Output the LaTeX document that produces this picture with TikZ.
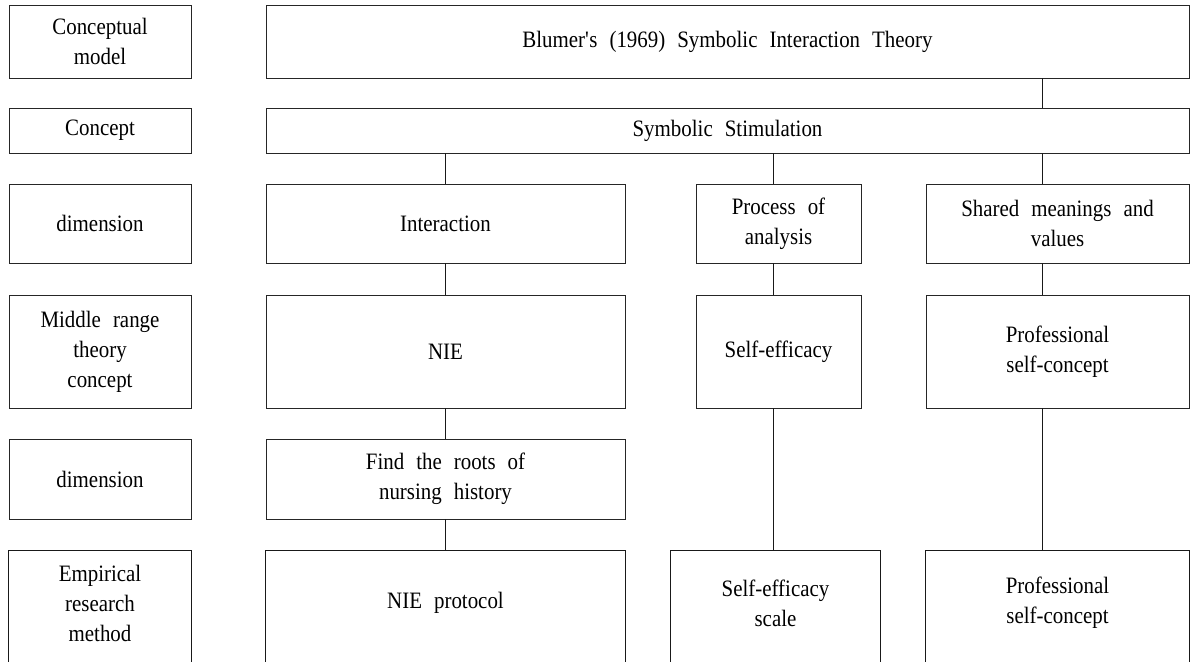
\documentclass[tikz,border=0pt]{standalone}
\usepackage{fontspec}
\setmainfont{Liberation Serif}[WordSpace=2.3, FakeStretch=0.89]
\usetikzlibrary{calc}
\newcommand*{\LevelBox}[6]{% #1 = name, #2/#3 = left/right, #4/#5 = top/bottom, #6 = text
  \node [cell, minimum width={#3-#2}, minimum height={#5-#4}]
    (#1) at ({(#2+#3)/2},{(#4+#5)/2}) {#6};
}

\begin{document}
\begin{tikzpicture}[x=1pt, y=-1pt,
    cell/.style={draw=black!85, line width=0.9pt, inner sep=0pt, align=center,
      font=\fontsize{23.5}{30}\selectfont},
    link/.style={draw=black!90, line width=0.9pt}]
  \useasboundingbox (0,0) rectangle (1190,661);
  \clip (0,0) rectangle (1190,661);
  % level labels
  \LevelBox{lmodel}{9}{191}{5}{78}{Conceptual\\model}
  \LevelBox{lconcept}{9}{191}{108}{153}{Concept}
  \LevelBox{ldimA}{9}{191}{184}{263}{dimension}
  \LevelBox{lmiddle}{9}{191}{295}{408}{Middle range\\theory\\concept}
  \LevelBox{ldimB}{9}{191}{439}{519}{dimension}
  % tree
  \LevelBox{blumer}{266}{1189}{5}{78}{Blumer\textquotesingle s (1969) Symbolic Interaction Theory}
  \LevelBox{stim}{266}{1189}{108}{153}{Symbolic Stimulation}
  \LevelBox{inter}{266}{625}{184}{263}{Interaction}
  \LevelBox{proc}{696}{861}{184}{263}{Process of\\analysis}
  \LevelBox{shared}{926}{1189}{184}{263}{Shared meanings and\\values}
  \LevelBox{nie}{266}{625}{295}{408}{NIE}
  \LevelBox{selfeff}{696}{861}{295}{408}{Self-efficacy}
  \LevelBox{profsc}{926}{1189}{295}{408}{Professional\\self-concept}
  \LevelBox{roots}{266}{625}{439}{519}{Find the roots of\\nursing history}
  % last row runs off the page
  \foreach \n/\l/\r/\t in {lempir/9/191/{Empirical\\research\\method},
      nieprot/266/625/{NIE protocol}, sescale/671/880/{Self-efficacy\\scale},
      profscm/926/1189/{Professional\\self-concept}} {
    \node [cell, draw=none, minimum width={\r-\l}, minimum height=104]
      (\n) at ({(\l+\r)/2},603) {\t};
    \draw [link] ([yshift=-20]\n.south west) -- (\n.north west)
      -- (\n.north east) -- ([yshift=-20]\n.south east);
  }
  % columns of the connectors
  \coordinate (colA) at (445,0);
  \coordinate (colB) at (773,0);
  \coordinate (colC) at (1042,0);
  \draw [link] (blumer.south -| colC) -- (stim.north -| colC);
  \draw [link] (stim.south -| colA) -- (inter.north -| colA);
  \draw [link] (stim.south -| colB) -- (proc.north -| colB);
  \draw [link] (stim.south -| colC) -- (shared.north -| colC);
  \draw [link] (inter.south -| colA) -- (nie.north -| colA);
  \draw [link] (nie.south -| colA) -- (roots.north -| colA);
  \draw [link] (roots.south -| colA) -- (nieprot.north -| colA);
  \draw [link] (proc.south -| colB) -- (selfeff.north -| colB);
  \draw [link] (selfeff.south -| colB) -- (sescale.north -| colB);
  \draw [link] (shared.south -| colC) -- (profsc.north -| colC);
  \draw [link] (profsc.south -| colC) -- (profscm.north -| colC);
\end{tikzpicture}
\end{document}
